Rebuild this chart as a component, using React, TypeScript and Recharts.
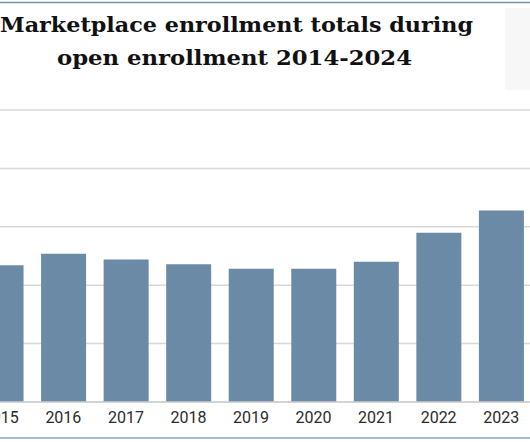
import React from "react";
import { BarChart, Bar, XAxis, YAxis, CartesianGrid } from "recharts";

const years = ["2014", "2015", "2016", "2017", "2018", "2019", "2020", "2021", "2022", "2023", "2024"];
const enrollmentMillions = [8.0, 11.7, 12.7, 12.2, 11.8, 11.4, 11.4, 12.0, 14.5, 16.4, 21.4];
const yTicks = [0, 5, 10, 15, 20, 25];
const titleLines = ["Marketplace enrollment totals during", "open enrollment 2014-2024"];

const data = years.map((y, i) => ({ year: y, value: enrollmentMillions[i] }));

export default function App() {
  return (
    <div
      style={{
        position: "fixed",
        left: 0,
        top: 0,
        width: 530,
        height: 442,
        overflow: "hidden",
        background: "#ffffff",
      }}
    >
      <div style={{ position: "absolute", left: -100, top: 0 }}>
        <BarChart
          width={705}
          height={440}
          data={data}
          margin={{ top: 110, right: 10, left: 7, bottom: 8 }}
        >
          <CartesianGrid vertical={false} stroke="#d9d9d9" strokeWidth={1.5} />
          <YAxis hide domain={[0, 25]} ticks={yTicks} />
          <XAxis
            dataKey="year"
            tickLine={false}
            axisLine={{ stroke: "#cfcfcf", strokeWidth: 1.5 }}
            tickSize={0}
            tickMargin={10}
            tick={{ fill: "#2b2b2b", fontSize: 16, fontFamily: "Roboto" }}
            interval={0}
          />
          <Bar dataKey="value" fill="#6b8aa6" barSize={45} isAnimationActive={false} />
        </BarChart>
      </div>
      <svg
        width={530}
        height={442}
        style={{ position: "absolute", left: 0, top: 0, pointerEvents: "none" }}
      >
        <line x1={0} x2={530} y1={2.5} y2={2.5} stroke="#7393b5" strokeWidth={1.5} />
        <line x1={0} x2={530} y1={438} y2={438} stroke="#8aa4c0" strokeWidth={1.5} />
        <rect x={505} y={8} width={30} height={82} fill="#f7f7f7" />
        <text
          x={0}
          y={32}
          textLength={473}
          lengthAdjust="spacingAndGlyphs"
          fontFamily="DejaVu Serif"
          fontWeight="bold"
          fontSize={21}
          fill="#111111"
        >
          {titleLines[0]}
        </text>
        <text
          x={57}
          y={65}
          textLength={355}
          lengthAdjust="spacingAndGlyphs"
          fontFamily="DejaVu Serif"
          fontWeight="bold"
          fontSize={21}
          fill="#111111"
        >
          {titleLines[1]}
        </text>
      </svg>
    </div>
  );
}
